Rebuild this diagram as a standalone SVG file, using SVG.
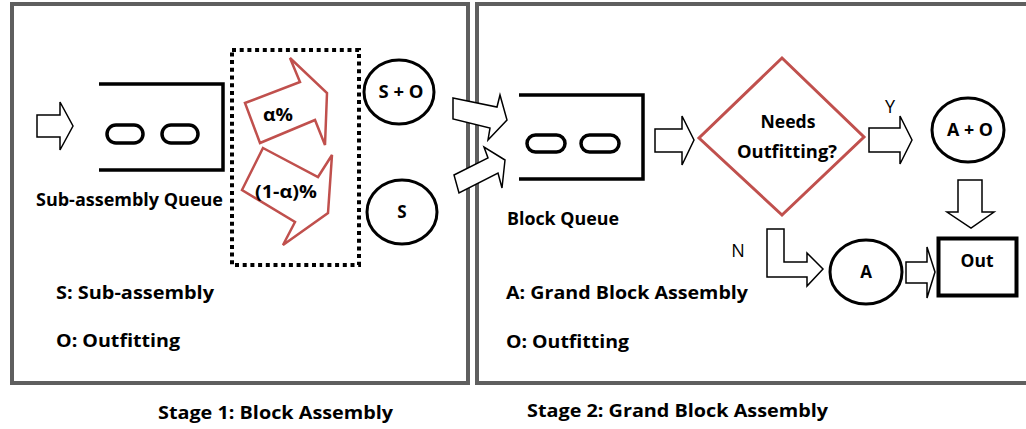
<svg xmlns="http://www.w3.org/2000/svg" width="1026" height="429" viewBox="0 0 1026 429">
<style>
.frame{fill:none;stroke:#5f5f5f;stroke-width:4}
.blk{fill:#fff;stroke:#000;stroke-width:1.5;stroke-linejoin:miter}
.red{fill:#fff;stroke:#c0504d;stroke-width:2.5;stroke-linejoin:miter}
.q{fill:none;stroke:#000;stroke-width:3.5}
.pill{fill:#fff;stroke:#000;stroke-width:3.5}
.circ{fill:#fff;stroke:#000;stroke-width:3}
.b{font-family:"Open Sans","Liberation Sans",sans-serif;font-weight:700;fill:#000}
.r{font-family:"Open Sans","Liberation Sans",sans-serif;font-weight:400;fill:#000}
</style>
<rect width="1026" height="429" fill="#fff"/>
<g id="stage1">
<rect class="frame" x="12" y="4" width="456" height="379"/>
<text class="b" x="158" y="419" font-size="18" textLength="235" lengthAdjust="spacingAndGlyphs">Stage 1: Block Assembly</text>
</g>
<g id="stage2">
<rect class="frame" x="477" y="4" width="560" height="379"/>
<text class="b" x="527" y="417" font-size="18" textLength="301" lengthAdjust="spacingAndGlyphs">Stage 2: Grand Block Assembly</text>
</g>
<g id="connectors">
<polygon class="blk" points="37,115 60,115 60,102 73,126 60,150 60,137 37,137"/>
<polygon class="blk" points="453,98 497,107 500,95 507,120 488,140 490,128 453,119"/>
<polygon class="blk" points="454,175 488,158 484,147 505,160 502,188 498,173 459,193"/>
<polygon class="blk" points="655,129 682,129 682,116 694,140 682,165 682,152 655,152"/>
<polygon class="blk" points="869,128 900,128 900,116 912,140 900,164 900,152 869,152"/>
<polygon class="blk" points="958,180 982,180 982,212 994,212 971,228 947,212 958,212"/>
<polygon class="blk" points="767,229 784,229 784,262 807,262 807,253 823,269 807,286 807,277 767,277"/>
<polygon class="blk" points="906,262 927,262 927,247 935,272 927,298 927,283 906,283"/>
<text class="r" x="890" y="113" font-size="18" text-anchor="middle">Y</text>
<text class="r" x="738" y="257" font-size="18" text-anchor="middle">N</text>
</g>
<g id="subassembly-queue">
<path class="q" d="M99,84 H223 V170 H99"/>
<rect class="pill" x="107" y="125" width="36" height="18" rx="9"/>
<rect class="pill" x="162" y="125" width="36" height="18" rx="9"/>
<text class="b" x="36" y="206" font-size="17" textLength="187" lengthAdjust="spacingAndGlyphs">Sub-assembly Queue</text>
</g>
<g id="split">
<rect x="232" y="50" width="127" height="215" fill="none" stroke="#000" stroke-width="4" stroke-dasharray="4 3.7"/>
<polygon class="red" points="245,103 300,82 290,58 327,93 325,145 315,120 260,143"/>
<polygon class="red" points="263,148 318,177 332,155 328,213 283,245 295,222 242,190"/>
<text class="b" x="278" y="121" font-size="18" text-anchor="middle" textLength="30" lengthAdjust="spacingAndGlyphs">α%</text>
<text class="b" x="286" y="198" font-size="18" text-anchor="middle" textLength="62" lengthAdjust="spacingAndGlyphs">(1-α)%</text>
</g>
<g id="node-so">
<ellipse class="circ" cx="399" cy="92" rx="35" ry="32"/>
<text class="b" x="401" y="98" font-size="17" text-anchor="middle" textLength="45" lengthAdjust="spacingAndGlyphs">S + O</text>
</g>
<g id="node-s">
<ellipse class="circ" cx="402" cy="212" rx="35" ry="32"/>
<text class="b" x="402" y="218" font-size="17" text-anchor="middle">S</text>
</g>
<g id="legend1">
<text class="b" x="56" y="299" font-size="18" textLength="158" lengthAdjust="spacingAndGlyphs">S: Sub-assembly</text>
<text class="b" x="56" y="347" font-size="18" textLength="124" lengthAdjust="spacingAndGlyphs">O: Outfitting</text>
</g>
<g id="block-queue">
<path class="q" d="M519,95 H643 V179 H519"/>
<rect class="pill" x="527" y="135" width="38" height="17" rx="8.5"/>
<rect class="pill" x="581" y="135" width="38" height="17" rx="8.5"/>
<text class="b" x="507" y="225" font-size="17" textLength="112" lengthAdjust="spacingAndGlyphs">Block Queue</text>
</g>
<g id="decision">
<polygon fill="#fff" stroke="#c0504d" stroke-width="3" points="782,58 864,137 782,215 699,138"/>
<text class="b" x="788" y="128" font-size="17" text-anchor="middle" textLength="55" lengthAdjust="spacingAndGlyphs">Needs</text>
<text class="b" x="787" y="158" font-size="17" text-anchor="middle" textLength="100" lengthAdjust="spacingAndGlyphs">Outfitting?</text>
</g>
<g id="node-ao">
<ellipse class="circ" cx="968" cy="130" rx="36" ry="32"/>
<text class="b" x="970" y="136" font-size="17" text-anchor="middle" textLength="46" lengthAdjust="spacingAndGlyphs">A + O</text>
</g>
<g id="node-a">
<ellipse class="circ" cx="866" cy="272" rx="36" ry="32"/>
<text class="b" x="866" y="278" font-size="17" text-anchor="middle">A</text>
</g>
<g id="node-out">
<rect x="938.5" y="238.5" width="78" height="57" fill="#fff" stroke="#000" stroke-width="4"/>
<text class="b" x="977" y="267" font-size="18" text-anchor="middle" textLength="33" lengthAdjust="spacingAndGlyphs">Out</text>
</g>
<g id="legend2">
<text class="b" x="506" y="299" font-size="18" textLength="242" lengthAdjust="spacingAndGlyphs">A: Grand Block Assembly</text>
<text class="b" x="506" y="348" font-size="18" textLength="123" lengthAdjust="spacingAndGlyphs">O: Outfitting</text>
</g>
</svg>
